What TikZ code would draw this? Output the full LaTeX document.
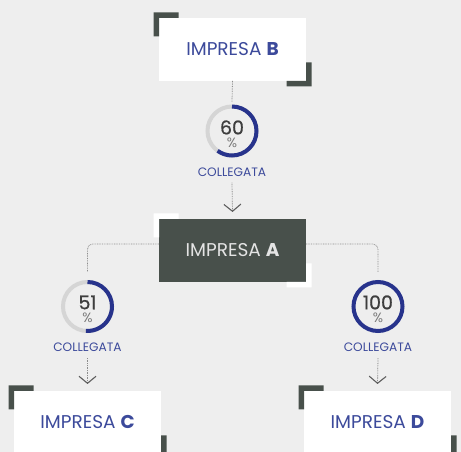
\documentclass[tikz,border=0pt]{standalone}
\usepackage{fontspec}
\setmainfont{Poppins}
\newfontfamily\numfont[FakeBold=0.7]{Poppins}
\usetikzlibrary{arrows.meta}
\definecolor{bg}{HTML}{EEEEEE}
\definecolor{darkbox}{HTML}{48504B}
\definecolor{blueT}{HTML}{3C4A9B}
\definecolor{arcblue}{HTML}{27338C}
\definecolor{ringgrey}{HTML}{D5D5D5}
\definecolor{numgrey}{HTML}{3E3E3E}
\definecolor{pctgrey}{HTML}{7A7A7A}
\definecolor{lineg}{HTML}{8C8C8C}
\definecolor{tipg}{HTML}{5E5E5E}
\definecolor{lightT}{HTML}{E4E4E4}
\newcommand\corners[2]{%
 \fill[#2] ([shift={(-5.5,5.5)}]#1.north west) -- ++(25,0) -- ++(0,-5.5) -- ++(-19.5,0) -- ++(0,-18.5) -- ++(-5.5,0) -- cycle;
 \fill[#2] ([shift={(5.5,-5.5)}]#1.south east) -- ++(-25,0) -- ++(0,5.5) -- ++(19.5,0) -- ++(0,18.5) -- ++(5.5,0) -- cycle;}
\newcommand\pct[1]{{\numfont\fontsize{19}{13}\selectfont\color{numgrey}#1}\\{\color{pctgrey}\%}}
\tikzset{
 compbox/.style={rectangle, minimum width=147pt, minimum height=63pt, inner sep=0pt, outer sep=0pt, fill=white, text=blueT, font=\fontsize{18.5}{22}\selectfont},
 ring/.style={circle, draw=ringgrey, line width=4pt, minimum size=49pt, inner sep=0pt, outer sep=0pt},
 blueArc/.style={arcblue, line width=4pt},
 pcttxt/.style={inner sep=0pt, align=center, font=\fontsize{13.5}{13}\selectfont},
 coll/.style={inner sep=0pt, text=blueT, font=\fontsize{12.2}{14}\selectfont},
 dotl/.style={lineg, line width=0.8pt, dash pattern=on 0.8pt off 0.9pt},
 arr/.style={dotl, -{Straight Barb[length=7pt, width=17pt, line width=1.1pt, color=tipg]}}
}
\begin{document}
\begin{tikzpicture}[x=1pt,y=1pt]
\fill[bg] (0,0) rectangle (461,452);
\useasboundingbox (0,0) rectangle (461,452);
\clip (0,0) rectangle (461,452);
% boxes
\node[compbox] (B) at (232.5,402.5) {IMPRESA \textbf{B}};
\corners{B}{darkbox}
\node[compbox, fill=darkbox, text=lightT] (A) at (232.5,201.5) {IMPRESA \textbf{A}};
\corners{A}{white}
\node[compbox] (C) at (87.5,29.5) {IMPRESA \textbf{C}};
\corners{C}{darkbox}
\node[compbox] (D) at (377.5,29.5) {IMPRESA \textbf{D}};
\corners{D}{darkbox}
% rings
\node[ring] (c60) at (232,321) {};
\draw[blueArc] (c60.north) arc[start angle=90, delta angle=-216, radius=24.5pt];
\node[pcttxt] (n60) at ([yshift=-3pt]c60.center) {\pct{60}};
\node[coll] (col60) at ([yshift=-41pt]c60.center) {COLLEGATA};
\node[ring] (c51) at (87.5,145.5) {};
\draw[blueArc] (c51.north) arc[start angle=90, delta angle=-183.6, radius=24.5pt];
\node[pcttxt] (n51) at ([yshift=-2.5pt]c51.center) {\pct{51}};
\node[coll] (col51) at ([yshift=-41pt]c51.center) {COLLEGATA};
\node[ring, draw=arcblue] (c100) at (378,145.5) {};
\node[pcttxt] (n100) at ([yshift=-2.5pt]c100.center) {\pct{100}};
\node[coll] (col100) at ([yshift=-41pt]c100.center) {COLLEGATA};
% connectors
\draw[dotl] (B.south) -- ([yshift=4.5pt]c60.north);
\draw[arr] ([yshift=-6pt]col60.south) -- ([yshift=7pt]A.north);
\draw[dotl, rounded corners=5pt] ([yshift=6.5pt]A.west) -| ([yshift=10pt]c51.north);
\draw[dotl, rounded corners=5pt] ([yshift=6.5pt]A.east) -| ([yshift=10pt]c100.north);
\draw[arr] ([yshift=-6pt]col51.south) -- ([yshift=7pt]C.north);
\draw[arr] ([yshift=-6pt]col100.south) -- ([yshift=7pt]D.north);
\end{tikzpicture}
\end{document}
